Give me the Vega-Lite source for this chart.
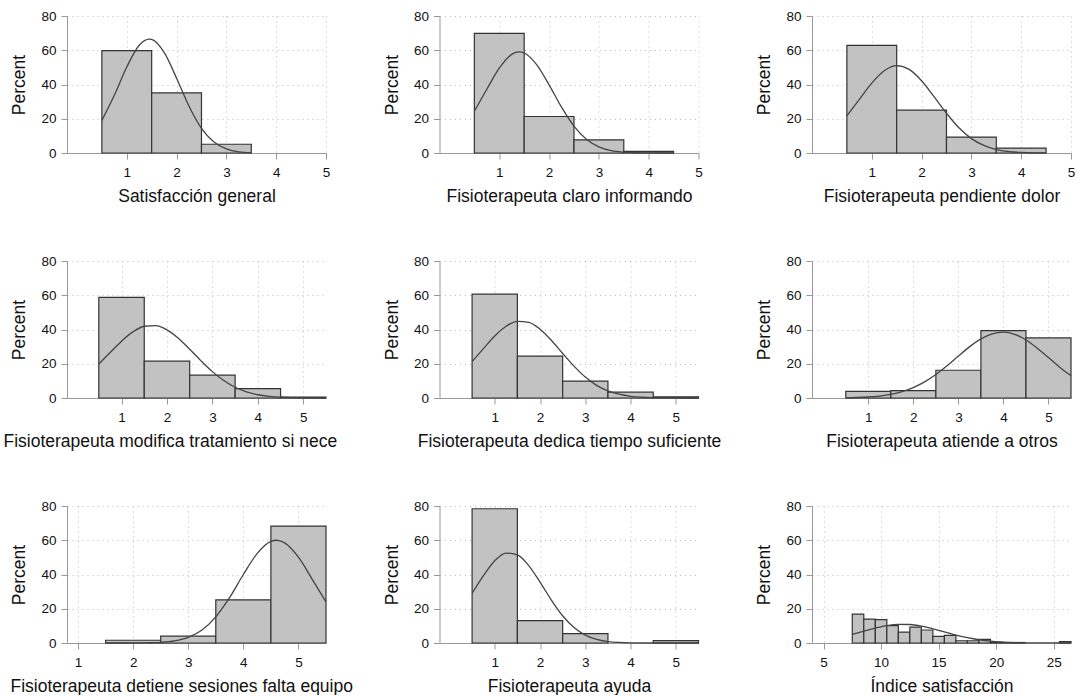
{
"$schema": "https://vega.github.io/schema/vega-lite/v6.json",
"background": "white",
"padding": {"left": 3, "top": 9, "right": 0, "bottom": 0},
"bounds": "flush",
"columns": 3,
"spacing": {"row": 108, "column": 113.5},
"config": {
  "view": {"stroke": null},
  "font": "Liberation Sans",
  "axis": {"labelFont": "Liberation Sans", "labelFontSize": 13.5, "labelColor": "#111", "titleFont": "Liberation Sans", "titleFontSize": 17.5, "titleFontWeight": "normal", "titleColor": "#111", "domainColor": "#999", "tickColor": "#999", "tickSize": 6, "grid": true, "gridColor": "#bbb", "gridDash": [1, 4], "gridWidth": 1, "labelFlush": false, "labelOverlap": false},
  "axisX": {"labelPadding": 6, "titlePadding": 9},
  "axisY": {"labelPadding": 5, "titlePadding": 12}
},
"datasets": {
"bars": [
{"p":1,"x0":0.5,"x1":1.5,"pct":59.8},{"p":1,"x0":1.5,"x1":2.5,"pct":35.1},{"p":1,"x0":2.5,"x1":3.5,"pct":5.1},
{"p":2,"x0":0.5,"x1":1.5,"pct":69.9},{"p":2,"x0":1.5,"x1":2.5,"pct":21.3},{"p":2,"x0":2.5,"x1":3.5,"pct":7.7},{"p":2,"x0":3.5,"x1":4.5,"pct":0.9},
{"p":3,"x0":0.5,"x1":1.5,"pct":62.8},{"p":3,"x0":1.5,"x1":2.5,"pct":25.0},{"p":3,"x0":2.5,"x1":3.5,"pct":9.3},{"p":3,"x0":3.5,"x1":4.5,"pct":2.9},
{"p":4,"x0":0.5,"x1":1.5,"pct":58.8},{"p":4,"x0":1.5,"x1":2.5,"pct":21.5},{"p":4,"x0":2.5,"x1":3.5,"pct":13.3},{"p":4,"x0":3.5,"x1":4.5,"pct":5.5},{"p":4,"x0":4.5,"x1":5.5,"pct":0.5},
{"p":5,"x0":0.5,"x1":1.5,"pct":60.6},{"p":5,"x0":1.5,"x1":2.5,"pct":24.5},{"p":5,"x0":2.5,"x1":3.5,"pct":9.9},{"p":5,"x0":3.5,"x1":4.5,"pct":3.4},{"p":5,"x0":4.5,"x1":5.5,"pct":0.7},
{"p":6,"x0":0.5,"x1":1.5,"pct":3.9},{"p":6,"x0":1.5,"x1":2.5,"pct":4.3},{"p":6,"x0":2.5,"x1":3.5,"pct":16.2},{"p":6,"x0":3.5,"x1":4.5,"pct":39.4},{"p":6,"x0":4.5,"x1":5.5,"pct":35.1},
{"p":7,"x0":1.5,"x1":2.5,"pct":1.6},{"p":7,"x0":2.5,"x1":3.5,"pct":4.0},{"p":7,"x0":3.5,"x1":4.5,"pct":25.2},{"p":7,"x0":4.5,"x1":5.5,"pct":68.3},
{"p":8,"x0":0.5,"x1":1.5,"pct":78.4},{"p":8,"x0":1.5,"x1":2.5,"pct":13.1},{"p":8,"x0":2.5,"x1":3.5,"pct":5.5},{"p":8,"x0":4.5,"x1":5.5,"pct":1.4},
{"p":9,"x0":7.5,"x1":8.5,"pct":16.9},{"p":9,"x0":8.5,"x1":9.5,"pct":14.0},{"p":9,"x0":9.5,"x1":10.5,"pct":13.6},{"p":9,"x0":10.5,"x1":11.5,"pct":10.1},{"p":9,"x0":11.5,"x1":12.5,"pct":6.4},{"p":9,"x0":12.5,"x1":13.5,"pct":9.3},{"p":9,"x0":13.5,"x1":14.5,"pct":7.6},{"p":9,"x0":14.5,"x1":15.5,"pct":3.9},{"p":9,"x0":15.5,"x1":16.5,"pct":4.5},{"p":9,"x0":16.5,"x1":17.5,"pct":1.3},{"p":9,"x0":17.5,"x1":18.5,"pct":1.3},{"p":9,"x0":18.5,"x1":19.5,"pct":2.1},{"p":9,"x0":19.5,"x1":20.5,"pct":0.5},{"p":9,"x0":20.5,"x1":21.5,"pct":0.3},{"p":9,"x0":21.5,"x1":22.5,"pct":0.3},{"p":9,"x0":25.5,"x1":26.5,"pct":0.8}
],
"curves": [
{"p":1,"x":0.5,"y":19.0},{"p":1,"x":0.75,"y":33.7},{"p":1,"x":1,"y":50.2},{"p":1,"x":1.25,"y":62.9},{"p":1,"x":1.45,"y":66.5},{"p":1,"x":1.5,"y":66.3},{"p":1,"x":1.75,"y":58.7},{"p":1,"x":2,"y":43.7},{"p":1,"x":2.25,"y":27.3},{"p":1,"x":2.5,"y":14.4},{"p":1,"x":2.75,"y":6.4},{"p":1,"x":3,"y":2.4},{"p":1,"x":3.25,"y":0.7},{"p":1,"x":3.5,"y":0.2},
{"p":2,"x":0.5,"y":24.3},{"p":2,"x":0.75,"y":37.2},{"p":2,"x":1,"y":49.5},{"p":2,"x":1.25,"y":57.6},{"p":2,"x":1.4,"y":59},{"p":2,"x":1.5,"y":58.4},{"p":2,"x":1.75,"y":51.6},{"p":2,"x":2,"y":39.8},{"p":2,"x":2.25,"y":26.8},{"p":2,"x":2.5,"y":15.7},{"p":2,"x":2.75,"y":8.0},{"p":2,"x":3,"y":3.6},{"p":2,"x":3.25,"y":1.4},{"p":2,"x":3.5,"y":0.5},{"p":2,"x":3.75,"y":0.14},{"p":2,"x":4,"y":0.03},{"p":2,"x":4.5,"y":0},
{"p":3,"x":0.5,"y":21.7},{"p":3,"x":0.75,"y":31.3},{"p":3,"x":1,"y":40.8},{"p":3,"x":1.25,"y":48.0},{"p":3,"x":1.5,"y":51.0},{"p":3,"x":1.75,"y":48.8},{"p":3,"x":2,"y":42.2},{"p":3,"x":2.25,"y":32.9},{"p":3,"x":2.5,"y":23.2},{"p":3,"x":2.75,"y":14.7},{"p":3,"x":3,"y":8.4},{"p":3,"x":3.25,"y":4.4},{"p":3,"x":3.5,"y":2.0},{"p":3,"x":3.75,"y":0.86},{"p":3,"x":4,"y":0.33},{"p":3,"x":4.25,"y":0.1},{"p":3,"x":4.5,"y":0.04},
{"p":4,"x":0.5,"y":19.9},{"p":4,"x":0.75,"y":26.6},{"p":4,"x":1,"y":33.2},{"p":4,"x":1.25,"y":38.6},{"p":4,"x":1.5,"y":41.9},{"p":4,"x":1.75,"y":42.3},{"p":4,"x":2,"y":39.8},{"p":4,"x":2.25,"y":34.9},{"p":4,"x":2.5,"y":28.5},{"p":4,"x":2.75,"y":21.7},{"p":4,"x":3,"y":15.4},{"p":4,"x":3.25,"y":10.2},{"p":4,"x":3.5,"y":6.3},{"p":4,"x":3.75,"y":3.6},{"p":4,"x":4,"y":1.9},{"p":4,"x":4.25,"y":0.96},{"p":4,"x":4.5,"y":0.44},{"p":4,"x":4.75,"y":0.19},{"p":4,"x":5,"y":0.08},{"p":4,"x":5.5,"y":0.01},
{"p":5,"x":0.5,"y":21.2},{"p":5,"x":0.75,"y":28.8},{"p":5,"x":1,"y":36.2},{"p":5,"x":1.25,"y":41.9},{"p":5,"x":1.5,"y":44.8},{"p":5,"x":1.75,"y":44.2},{"p":5,"x":2,"y":40.2},{"p":5,"x":2.25,"y":33.7},{"p":5,"x":2.5,"y":26.0},{"p":5,"x":2.75,"y":18.6},{"p":5,"x":3,"y":12.2},{"p":5,"x":3.25,"y":7.4},{"p":5,"x":3.5,"y":4.2},{"p":5,"x":3.75,"y":2.2},{"p":5,"x":4,"y":1.0},{"p":5,"x":4.25,"y":0.45},{"p":5,"x":4.5,"y":0.18},{"p":5,"x":5,"y":0.02},{"p":5,"x":5.5,"y":0},
{"p":6,"x":0.5,"y":0.13},{"p":6,"x":0.75,"y":0.28},{"p":6,"x":1,"y":0.59},{"p":6,"x":1.25,"y":1.15},{"p":6,"x":1.5,"y":2.1},{"p":6,"x":1.75,"y":3.7},{"p":6,"x":2,"y":6.1},{"p":6,"x":2.25,"y":9.4},{"p":6,"x":2.5,"y":13.7},{"p":6,"x":2.75,"y":18.9},{"p":6,"x":3,"y":24.5},{"p":6,"x":3.25,"y":30.0},{"p":6,"x":3.5,"y":34.5},{"p":6,"x":3.75,"y":37.5},{"p":6,"x":4,"y":38.5},{"p":6,"x":4.25,"y":37.2},{"p":6,"x":4.5,"y":33.9},{"p":6,"x":4.75,"y":29.1},{"p":6,"x":5,"y":23.6},{"p":6,"x":5.25,"y":18.0},{"p":6,"x":5.5,"y":13.0},
{"p":7,"x":1.5,"y":0},{"p":7,"x":2,"y":0.03},{"p":7,"x":2.25,"y":0.12},{"p":7,"x":2.5,"y":0.41},{"p":7,"x":2.75,"y":1.25},{"p":7,"x":3,"y":3.3},{"p":7,"x":3.25,"y":7.6},{"p":7,"x":3.5,"y":15.3},{"p":7,"x":3.75,"y":26.5},{"p":7,"x":4,"y":40.0},{"p":7,"x":4.25,"y":52.2},{"p":7,"x":4.5,"y":59.3},{"p":7,"x":4.6,"y":60},{"p":7,"x":4.75,"y":58.5},{"p":7,"x":5,"y":50.1},{"p":7,"x":5.25,"y":37.2},{"p":7,"x":5.5,"y":24.0},
{"p":8,"x":0.5,"y":28.9},{"p":8,"x":0.75,"y":39.3},{"p":8,"x":1,"y":48.0},{"p":8,"x":1.25,"y":52.5},{"p":8,"x":1.5,"y":51.5},{"p":8,"x":1.75,"y":45.2},{"p":8,"x":2,"y":35.6},{"p":8,"x":2.25,"y":25.1},{"p":8,"x":2.5,"y":15.9},{"p":8,"x":2.75,"y":9.0},{"p":8,"x":3,"y":4.6},{"p":8,"x":3.25,"y":2.1},{"p":8,"x":3.5,"y":0.85},{"p":8,"x":3.75,"y":0.31},{"p":8,"x":4,"y":0.1},{"p":8,"x":4.5,"y":0.01},{"p":8,"x":5.5,"y":0},
{"p":9,"x":7.5,"y":5.0},{"p":9,"x":8.5,"y":6.9},{"p":9,"x":9.5,"y":8.7},{"p":9,"x":10.5,"y":10.2},{"p":9,"x":11.5,"y":10.9},{"p":9,"x":12.5,"y":10.8},{"p":9,"x":13.5,"y":9.9},{"p":9,"x":14.5,"y":8.3},{"p":9,"x":15.5,"y":6.5},{"p":9,"x":16.5,"y":4.6},{"p":9,"x":17.5,"y":3.1},{"p":9,"x":18.5,"y":1.9},{"p":9,"x":19.5,"y":1.04},{"p":9,"x":20.5,"y":0.54},{"p":9,"x":21.5,"y":0.26},{"p":9,"x":22.5,"y":0.11},{"p":9,"x":23.5,"y":0.04},{"p":9,"x":24.5,"y":0.02},{"p":9,"x":26.5,"y":0}
]
},
"concat": [
{"width":259,"height":137,"layer":[
 {"data":{"name":"bars"},"transform":[{"filter":"datum.p==1"}],"mark":{"type":"rect","fill":"#c2c2c2","stroke":"#333","strokeWidth":1.2},
  "encoding":{"x":{"field":"x0","type":"quantitative","title":"Satisfacción general","scale":{"domain":[-0.2,5],"nice":false,"zero":false},"axis":{"values":[1,2,3,4,5],"format":"d"}},"x2":{"field":"x1"},"y":{"field":"pct","type":"quantitative","title":"Percent","scale":{"domain":[0,80],"nice":false},"axis":{"values":[0,20,40,60,80],"format":"d"}},"y2":{"datum":0}}},
 {"data":{"name":"curves"},"transform":[{"filter":"datum.p==1"}],"mark":{"type":"line","color":"#444","strokeWidth":1.3,"interpolate":"monotone"},
  "encoding":{"x":{"field":"x","type":"quantitative","title":"Satisfacción general","scale":{"domain":[-0.2,5],"nice":false,"zero":false},"axis":{"values":[1,2,3,4,5],"format":"d"}},"y":{"field":"y","type":"quantitative","title":"Percent","scale":{"domain":[0,80],"nice":false},"axis":{"values":[0,20,40,60,80],"format":"d"}}}}
]},
{"width":259,"height":137,"layer":[
 {"data":{"name":"bars"},"transform":[{"filter":"datum.p==2"}],"mark":{"type":"rect","fill":"#c2c2c2","stroke":"#333","strokeWidth":1.2},
  "encoding":{"x":{"field":"x0","type":"quantitative","title":"Fisioterapeuta claro informando","scale":{"domain":[-0.2,5],"nice":false,"zero":false},"axis":{"values":[1,2,3,4,5],"format":"d"}},"x2":{"field":"x1"},"y":{"field":"pct","type":"quantitative","title":"Percent","scale":{"domain":[0,80],"nice":false},"axis":{"values":[0,20,40,60,80],"format":"d"}},"y2":{"datum":0}}},
 {"data":{"name":"curves"},"transform":[{"filter":"datum.p==2"}],"mark":{"type":"line","color":"#444","strokeWidth":1.3,"interpolate":"monotone"},
  "encoding":{"x":{"field":"x","type":"quantitative","title":"Fisioterapeuta claro informando","scale":{"domain":[-0.2,5],"nice":false,"zero":false},"axis":{"values":[1,2,3,4,5],"format":"d"}},"y":{"field":"y","type":"quantitative","title":"Percent","scale":{"domain":[0,80],"nice":false},"axis":{"values":[0,20,40,60,80],"format":"d"}}}}
]},
{"width":259,"height":137,"layer":[
 {"data":{"name":"bars"},"transform":[{"filter":"datum.p==3"}],"mark":{"type":"rect","fill":"#c2c2c2","stroke":"#333","strokeWidth":1.2},
  "encoding":{"x":{"field":"x0","type":"quantitative","title":"Fisioterapeuta pendiente dolor","scale":{"domain":[-0.2,5],"nice":false,"zero":false},"axis":{"values":[1,2,3,4,5],"format":"d"}},"x2":{"field":"x1"},"y":{"field":"pct","type":"quantitative","title":"Percent","scale":{"domain":[0,80],"nice":false},"axis":{"values":[0,20,40,60,80],"format":"d"}},"y2":{"datum":0}}},
 {"data":{"name":"curves"},"transform":[{"filter":"datum.p==3"}],"mark":{"type":"line","color":"#444","strokeWidth":1.3,"interpolate":"monotone"},
  "encoding":{"x":{"field":"x","type":"quantitative","title":"Fisioterapeuta pendiente dolor","scale":{"domain":[-0.2,5],"nice":false,"zero":false},"axis":{"values":[1,2,3,4,5],"format":"d"}},"y":{"field":"y","type":"quantitative","title":"Percent","scale":{"domain":[0,80],"nice":false},"axis":{"values":[0,20,40,60,80],"format":"d"}}}}
]},
{"width":259,"height":137,"layer":[
 {"data":{"name":"bars"},"transform":[{"filter":"datum.p==4"}],"mark":{"type":"rect","fill":"#c2c2c2","stroke":"#333","strokeWidth":1.2},
  "encoding":{"x":{"field":"x0","type":"quantitative","title":"Fisioterapeuta modifica tratamiento si nece","scale":{"domain":[-0.2,5.5],"nice":false,"zero":false},"axis":{"values":[1,2,3,4,5],"format":"d","titleX":-64,"titleAlign":"left"}},"x2":{"field":"x1"},"y":{"field":"pct","type":"quantitative","title":"Percent","scale":{"domain":[0,80],"nice":false},"axis":{"values":[0,20,40,60,80],"format":"d"}},"y2":{"datum":0}}},
 {"data":{"name":"curves"},"transform":[{"filter":"datum.p==4"}],"mark":{"type":"line","color":"#444","strokeWidth":1.3,"interpolate":"monotone"},
  "encoding":{"x":{"field":"x","type":"quantitative","title":"Fisioterapeuta modifica tratamiento si nece","scale":{"domain":[-0.2,5.5],"nice":false,"zero":false},"axis":{"values":[1,2,3,4,5],"format":"d","titleX":-64,"titleAlign":"left"}},"y":{"field":"y","type":"quantitative","title":"Percent","scale":{"domain":[0,80],"nice":false},"axis":{"values":[0,20,40,60,80],"format":"d"}}}}
]},
{"width":259,"height":137,"layer":[
 {"data":{"name":"bars"},"transform":[{"filter":"datum.p==5"}],"mark":{"type":"rect","fill":"#c2c2c2","stroke":"#333","strokeWidth":1.2},
  "encoding":{"x":{"field":"x0","type":"quantitative","title":"Fisioterapeuta dedica tiempo suficiente","scale":{"domain":[-0.22,5.5],"nice":false,"zero":false},"axis":{"values":[1,2,3,4,5],"format":"d"}},"x2":{"field":"x1"},"y":{"field":"pct","type":"quantitative","title":"Percent","scale":{"domain":[0,80],"nice":false},"axis":{"values":[0,20,40,60,80],"format":"d"}},"y2":{"datum":0}}},
 {"data":{"name":"curves"},"transform":[{"filter":"datum.p==5"}],"mark":{"type":"line","color":"#444","strokeWidth":1.3,"interpolate":"monotone"},
  "encoding":{"x":{"field":"x","type":"quantitative","title":"Fisioterapeuta dedica tiempo suficiente","scale":{"domain":[-0.22,5.5],"nice":false,"zero":false},"axis":{"values":[1,2,3,4,5],"format":"d"}},"y":{"field":"y","type":"quantitative","title":"Percent","scale":{"domain":[0,80],"nice":false},"axis":{"values":[0,20,40,60,80],"format":"d"}}}}
]},
{"width":259,"height":137,"layer":[
 {"data":{"name":"bars"},"transform":[{"filter":"datum.p==6"}],"mark":{"type":"rect","fill":"#c2c2c2","stroke":"#333","strokeWidth":1.2},
  "encoding":{"x":{"field":"x0","type":"quantitative","title":"Fisioterapeuta atiende a otros","scale":{"domain":[-0.25,5.5],"nice":false,"zero":false},"axis":{"values":[1,2,3,4,5],"format":"d"}},"x2":{"field":"x1"},"y":{"field":"pct","type":"quantitative","title":"Percent","scale":{"domain":[0,80],"nice":false},"axis":{"values":[0,20,40,60,80],"format":"d"}},"y2":{"datum":0}}},
 {"data":{"name":"curves"},"transform":[{"filter":"datum.p==6"}],"mark":{"type":"line","color":"#444","strokeWidth":1.3,"interpolate":"monotone"},
  "encoding":{"x":{"field":"x","type":"quantitative","title":"Fisioterapeuta atiende a otros","scale":{"domain":[-0.25,5.5],"nice":false,"zero":false},"axis":{"values":[1,2,3,4,5],"format":"d"}},"y":{"field":"y","type":"quantitative","title":"Percent","scale":{"domain":[0,80],"nice":false},"axis":{"values":[0,20,40,60,80],"format":"d"}}}}
]},
{"width":259,"height":137,"layer":[
 {"data":{"name":"bars"},"transform":[{"filter":"datum.p==7"}],"mark":{"type":"rect","fill":"#c2c2c2","stroke":"#333","strokeWidth":1.2},
  "encoding":{"x":{"field":"x0","type":"quantitative","title":"Fisioterapeuta detiene sesiones falta equipo","scale":{"domain":[0.8,5.5],"nice":false,"zero":false},"axis":{"values":[1,2,3,4,5],"format":"d","titleX":-57,"titleAlign":"left"}},"x2":{"field":"x1"},"y":{"field":"pct","type":"quantitative","title":"Percent","scale":{"domain":[0,80],"nice":false},"axis":{"values":[0,20,40,60,80],"format":"d"}},"y2":{"datum":0}}},
 {"data":{"name":"curves"},"transform":[{"filter":"datum.p==7"}],"mark":{"type":"line","color":"#444","strokeWidth":1.3,"interpolate":"monotone"},
  "encoding":{"x":{"field":"x","type":"quantitative","title":"Fisioterapeuta detiene sesiones falta equipo","scale":{"domain":[0.8,5.5],"nice":false,"zero":false},"axis":{"values":[1,2,3,4,5],"format":"d","titleX":-57,"titleAlign":"left"}},"y":{"field":"y","type":"quantitative","title":"Percent","scale":{"domain":[0,80],"nice":false},"axis":{"values":[0,20,40,60,80],"format":"d"}}}}
]},
{"width":259,"height":137,"layer":[
 {"data":{"name":"bars"},"transform":[{"filter":"datum.p==8"}],"mark":{"type":"rect","fill":"#c2c2c2","stroke":"#333","strokeWidth":1.2},
  "encoding":{"x":{"field":"x0","type":"quantitative","title":"Fisioterapeuta ayuda","scale":{"domain":[-0.22,5.5],"nice":false,"zero":false},"axis":{"values":[1,2,3,4,5],"format":"d"}},"x2":{"field":"x1"},"y":{"field":"pct","type":"quantitative","title":"Percent","scale":{"domain":[0,80],"nice":false},"axis":{"values":[0,20,40,60,80],"format":"d"}},"y2":{"datum":0}}},
 {"data":{"name":"curves"},"transform":[{"filter":"datum.p==8"}],"mark":{"type":"line","color":"#444","strokeWidth":1.3,"interpolate":"monotone"},
  "encoding":{"x":{"field":"x","type":"quantitative","title":"Fisioterapeuta ayuda","scale":{"domain":[-0.22,5.5],"nice":false,"zero":false},"axis":{"values":[1,2,3,4,5],"format":"d"}},"y":{"field":"y","type":"quantitative","title":"Percent","scale":{"domain":[0,80],"nice":false},"axis":{"values":[0,20,40,60,80],"format":"d"}}}}
]},
{"width":259,"height":137,"layer":[
 {"data":{"name":"bars"},"transform":[{"filter":"datum.p==9"}],"mark":{"type":"rect","fill":"#c2c2c2","stroke":"#333","strokeWidth":1.2},
  "encoding":{"x":{"field":"x0","type":"quantitative","title":"Índice satisfacción","scale":{"domain":[4,26.5],"nice":false,"zero":false},"axis":{"values":[5,10,15,20,25],"format":"d"}},"x2":{"field":"x1"},"y":{"field":"pct","type":"quantitative","title":"Percent","scale":{"domain":[0,80],"nice":false},"axis":{"values":[0,20,40,60,80],"format":"d"}},"y2":{"datum":0}}},
 {"data":{"name":"curves"},"transform":[{"filter":"datum.p==9"}],"mark":{"type":"line","color":"#444","strokeWidth":1.3,"interpolate":"monotone"},
  "encoding":{"x":{"field":"x","type":"quantitative","title":"Índice satisfacción","scale":{"domain":[4,26.5],"nice":false,"zero":false},"axis":{"values":[5,10,15,20,25],"format":"d"}},"y":{"field":"y","type":"quantitative","title":"Percent","scale":{"domain":[0,80],"nice":false},"axis":{"values":[0,20,40,60,80],"format":"d"}}}}
]}
]
}
